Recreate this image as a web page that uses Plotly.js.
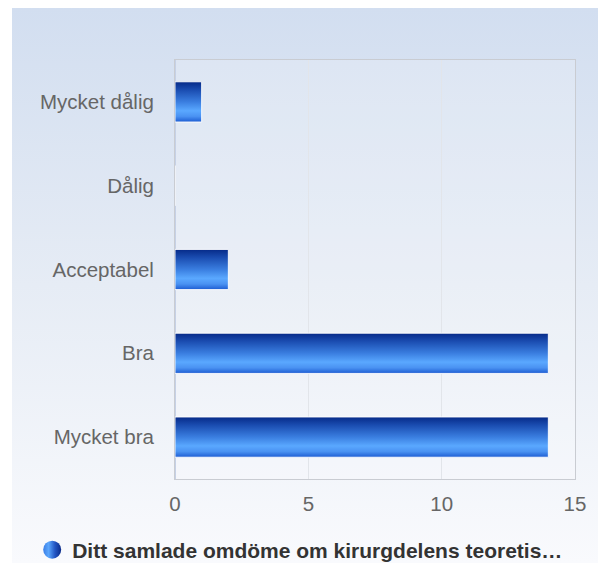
<!DOCTYPE html>
<html>
<head>
<meta charset="utf-8">
<script src="https://cdn.plot.ly/plotly-3.0.1.min.js"></script>
<style>
  body { margin: 0; background: #ffffff; }
  #wrap { position: relative; width: 598px; height: 563px; }
  #bg { position: absolute; left: 12px; top: 8px; width: 586px; height: 555px;
        background: linear-gradient(to bottom, #d2def0 0%, #e6ecf5 50%, #f9fafd 100%); }
  #chart { position: absolute; left: 0; top: 0; width: 598px; height: 563px; }
</style>
</head>
<body>
<div id="wrap">
  <div id="bg"></div>
  <div id="chart"></div>
</div>
<script>
////////// data
var categories = ['Mycket dålig', 'Dålig', 'Acceptabel', 'Bra', 'Mycket bra'];
var counts = [1, 0, 2, 14, 14];
var seriesName = 'Ditt samlade omdöme om kirurgdelens teoretis…';
var xTicks = [0, 5, 10, 15];

////////// trace
var data = [{
  type: 'bar',
  orientation: 'h',
  x: counts,
  y: categories,
  name: '<b>' + seriesName + '</b>',
  marker: { color: '#2f6fd8', line: { color: 'rgba(255,255,255,0.9)', width: 1 } },
  showlegend: true,
  hoverinfo: 'none'
}];

////////// layout
var layout = {
  width: 598,
  height: 563,
  margin: { l: 175, r: 23, t: 60, b: 84 },
  paper_bgcolor: 'rgba(0,0,0,0)',
  plot_bgcolor: 'rgba(255,255,255,0.18)',
  font: { family: 'Liberation Sans, Arial, sans-serif', size: 20.5, color: '#666666' },
  bargap: 0.52,
  xaxis: {
    range: [0, 15],
    tickvals: xTicks,
    ticks: '',
    showgrid: true,
    gridcolor: '#e2e5ea',
    gridwidth: 1,
    zeroline: true,
    zerolinecolor: '#c6d1e6',
    zerolinewidth: 2,
    showline: true,
    linecolor: '#c9ccd2',
    linewidth: 1,
    mirror: true,
    ticklabelstandoff: 6,
    fixedrange: true
  },
  yaxis: {
    autorange: 'reversed',
    ticks: '',
    showgrid: false,
    showline: true,
    linecolor: '#c9ccd2',
    linewidth: 1,
    mirror: true,
    ticklabelstandoff: 16,
    fixedrange: true
  },
  showlegend: true,
  legend: {
    orientation: 'h',
    xref: 'container',
    x: 0.502,
    xanchor: 'center',
    yref: 'container',
    y: 0.023,
    yanchor: 'middle',
    bgcolor: 'rgba(0,0,0,0)',
    font: { family: 'Liberation Sans, Arial, sans-serif', size: 21, color: '#333333' },
    itemclick: false,
    itemdoubleclick: false
  }
};

///////////////// plot, then paint the gradients
Plotly.newPlot('chart', data, layout, { displayModeBar: false, staticPlot: true }).then(function (gd) {
  var ns = 'http://www.w3.org/2000/svg';
  var svg = gd.querySelector('svg.main-svg');
  var defs = svg.querySelector('defs') || svg.insertBefore(document.createElementNS(ns, 'defs'), svg.firstChild);

  function grad(id, x2, y2, stops) {
    var g = document.createElementNS(ns, 'linearGradient');
    g.setAttribute('id', id);
    g.setAttribute('x1', '0'); g.setAttribute('y1', '0');
    g.setAttribute('x2', x2); g.setAttribute('y2', y2);
    stops.forEach(function (s) {
      var st = document.createElementNS(ns, 'stop');
      st.setAttribute('offset', s[0]);
      st.setAttribute('stop-color', s[1]);
      g.appendChild(st);
    });
    defs.appendChild(g);
  }

  grad('barGrad', '0', '1', [
    [0, '#062a88'], [0.2, '#1a4cb0'], [0.5, '#3a7ee0'],
    [0.72, '#5aa8ff'], [0.86, '#4a92f2'], [1, '#1c5cd2']
  ]);
  grad('dotGrad', '1', '0', [
    [0, '#3a7ee6'], [0.3, '#5aa6fc'], [0.65, '#2356c4'], [1, '#0a2a88']
  ]);

  gd.querySelectorAll('.barlayer .point path').forEach(function (p) {
    p.style.fill = 'url(#barGrad)';
  });
  gd.querySelectorAll('.legend .legendpoints path').forEach(function (p) {
    p.setAttribute('d', 'M9,0A9,9 0 1,1 -9,0A9,9 0 1,1 9,0Z');
    p.style.fill = 'url(#dotGrad)';
    p.style.stroke = 'none';
  });
});
</script>
</body>
</html>
